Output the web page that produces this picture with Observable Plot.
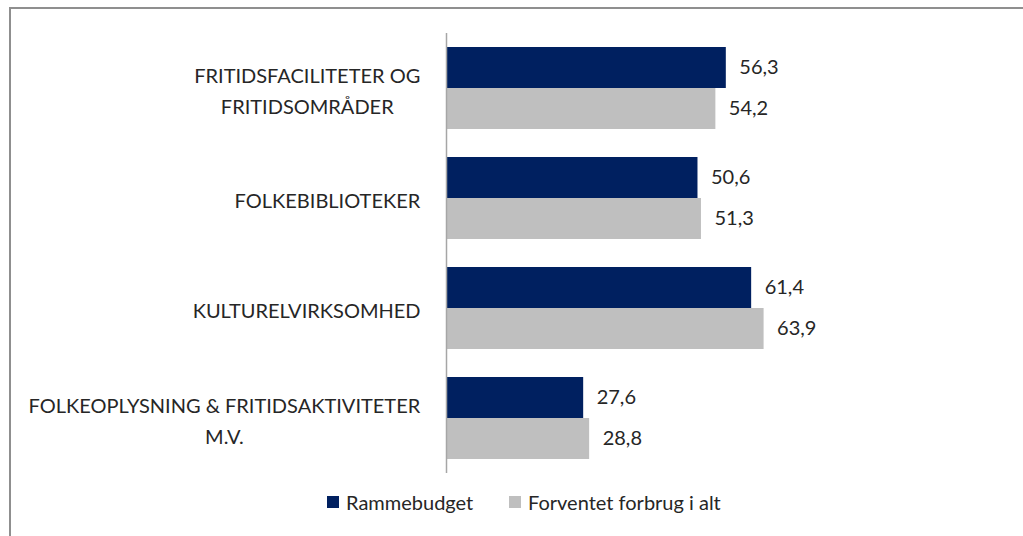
<!DOCTYPE html>
<html>
<head>
<meta charset="utf-8">
<script src="https://cdn.jsdelivr.net/npm/d3@7"></script>
<script src="https://cdn.jsdelivr.net/npm/@observablehq/plot@0.6"></script>
<style>
  html, body { margin: 0; padding: 0; background: #fff; }
  #wrap { position: relative; width: 1023px; height: 536px; overflow: hidden; font-family: Lato, sans-serif; }
  #frame { position: absolute; left: 9px; top: 7px; width: 1100px; height: 600px; border-top: 2px solid #8f8f8f; border-left: 2px solid #8f8f8f; box-sizing: border-box; }
  #chart { position: absolute; left: 0; top: 0; }
  #legend { position: absolute; top: 491px; left: 0; width: 1023px; height: 22px; font-size: 20px; color: #262626; }
  .item { position: absolute; top: 0; display: flex; align-items: center; height: 22px; }
  .sw { width: 12px; height: 12px; margin-right: 7px; }
</style>
</head>
<body>
<div id="wrap">
  <div id="frame"></div>
  <div id="chart"></div>
  <div id="legend"></div>
</div>
<script>
const categories = [
  "FRITIDSFACILITETER OG\nFRITIDSOMRÅDER",
  "FOLKEBIBLIOTEKER",
  "KULTURELVIRKSOMHED",
  "FOLKEOPLYSNING & FRITIDSAKTIVITETER\nM.V."
];
const seriesNames = ["Rammebudget", "Forventet forbrug i alt"];
const rammebudget = [56.3, 50.6, 61.4, 27.6];
const forventet = [54.2, 51.3, 63.9, 28.8];
const colors = ["#002060", "#bfbfbf"];

const fmt = v => v.toFixed(1).replace(".", ",");
const rows = categories.flatMap((c, i) => [
  {cat: c, series: seriesNames[0], value: rammebudget[i]},
  {cat: c, series: seriesNames[1], value: forventet[i]}
]);
const r0 = rows.filter(d => d.series === seriesNames[0]);
const r1 = rows.filter(d => d.series === seriesNames[1]);

const fontSize = 20;
const chart = Plot.plot({
  width: 1023,
  height: 485,
  marginTop: 33,
  marginBottom: 12,
  marginLeft: 446,
  marginRight: 80,
  style: {fontFamily: "Lato, sans-serif", fontSize: fontSize + "px", background: "transparent", color: "#262626"},
  x: {domain: [0, 100], axis: null},
  y: {domain: categories, paddingInner: 0.255, paddingOuter: 0.1275, axis: null},
  color: {domain: seriesNames, range: colors},
  marks: [
    Plot.barX(r0, {y: "cat", x: "value", fill: colors[0], insetBottom: 41}),
    Plot.barX(r1, {y: "cat", x: "value", fill: colors[1], insetTop: 41}),
    Plot.ruleX([0], {stroke: "#a6a6a6", strokeWidth: 1.5}),
    Plot.text(r0, {y: "cat", x: "value", text: d => fmt(d.value), dy: -20.5, dx: 13, textAnchor: "start", fill: "#262626", fontSize}),
    Plot.text(r1, {y: "cat", x: "value", text: d => fmt(d.value), dy: 20.5, dx: 13, textAnchor: "start", fill: "#262626", fontSize}),
    Plot.text(categories, {y: d => d, frameAnchor: "left", text: d => d, dx: -26, textAnchor: "end", lineHeight: 1.55, fill: "#262626", fontSize, className: "catlabels"})
  ]
});
document.getElementById("chart").appendChild(chart);

// center the lines of multi-line labels within their right-aligned block
d3.select(chart).selectAll("g.catlabels text").each(function() {
  const w = this.getBBox().width;
  this.setAttribute("text-anchor", "middle");
  const t = this.getAttribute("transform") || "";
  this.setAttribute("transform", t + ` translate(${-w / 2},0)`);
});

const legend = d3.select("#legend");
const lx = [327, 509];
seriesNames.forEach((s, i) => {
  const item = legend.append("div").attr("class", "item").style("left", lx[i] + "px");
  item.append("div").attr("class", "sw").style("background", colors[i]);
  item.append("span").text(s);
});
</script>
</body>
</html>
